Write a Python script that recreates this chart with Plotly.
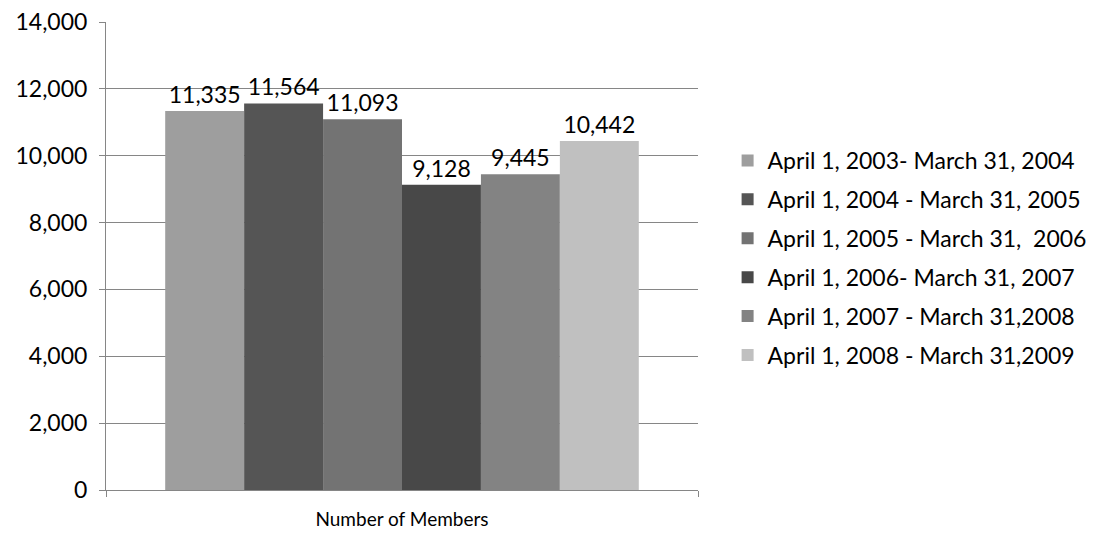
import plotly.graph_objects as go

category = ["Number of Members"]
series_names = [
    "April 1, 2003- March 31, 2004",
    "April 1, 2004 - March 31, 2005",
    "April 1, 2005 - March 31,  2006",
    "April 1, 2006- March 31, 2007",
    "April 1, 2007 - March 31,2008",
    "April 1, 2008 - March 31,2009",
]
values = [11335, 11564, 11093, 9128, 9445, 10442]
colors = ["#9e9e9e", "#555555", "#737373", "#484848", "#838383", "#c0c0c0"]
y_ticks = [0, 2000, 4000, 6000, 8000, 10000, 12000, 14000]

FONT = "Lato, 'Open Sans', sans-serif"

fig = go.Figure()
for i, (name, v, c) in enumerate(zip(series_names, values, colors)):
    fig.add_trace(go.Bar(
        x=category, y=[v], name=name, marker=dict(color=c, line=dict(width=0)),
        text=[f"{v:,}"], textposition="outside", cliponaxis=False,
        textfont=dict(size=23, color="#000000", family=FONT),
        legendgroup=f"g{i}",
    ))

fig.update_layout(
    width=1091, height=535,
    margin=dict(l=98, r=401, t=14, b=53, autoexpand=False),
    plot_bgcolor="white", paper_bgcolor="white",
    barmode="group", bargap=0.2, bargroupgap=0,
    font=dict(family=FONT, size=22, color="#000000"),
    showlegend=True,
    legend=dict(x=1.05, xanchor="left", y=0.75, yanchor="top",
                traceorder="grouped", tracegroupgap=6,
                font=dict(size=23, family=FONT, color="#000000"),
                itemwidth=30),
)
fig.update_yaxes(
    range=[0, 14000], tickvals=y_ticks, tickformat=",",
    showgrid=True, gridcolor="#868686", gridwidth=1,
    showline=True, linecolor="#868686", linewidth=1,
    ticks="outside", ticklen=6, tickcolor="#868686",
    tickfont=dict(size=23, family=FONT), zeroline=False,
    ticklabeloverflow="allow", automargin=False, ticklabelstandoff=7,
)
fig.update_xaxes(
    showline=True, linecolor="#868686", linewidth=1,
    ticks="outside", tickson="boundaries", ticklen=6, tickcolor="#868686",
    tickfont=dict(size=19, family=FONT), ticklabelstandoff=12,
    automargin=False,
)

fig.write_html("out.html")
